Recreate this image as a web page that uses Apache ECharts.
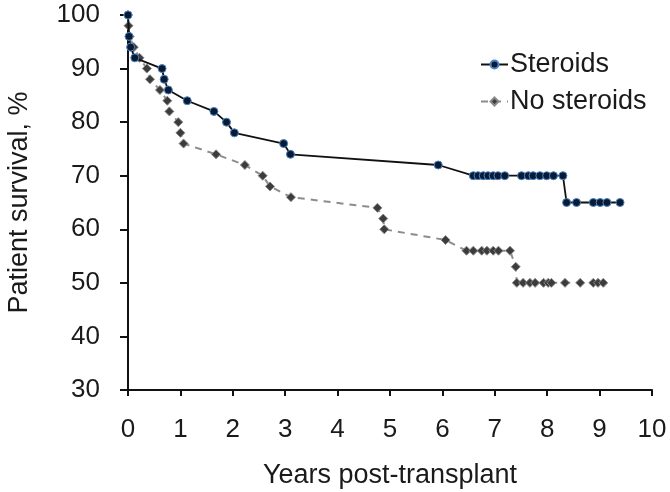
<!DOCTYPE html>
<html>
<head>
<meta charset="utf-8">
<script src="https://cdn.jsdelivr.net/npm/echarts@6/dist/echarts.min.js"></script>
<style>
html,body{margin:0;padding:0;background:#fff;}
#chart{width:670px;height:492px;}
</style>
</head>
<body>
<div id="chart"></div>
<script>
var seriesNames = ["Steroids", "No steroids"];
var xTicks = [0,1,2,3,4,5,6,7,8,9,10];
var yTicks = [30,40,50,60,70,80,90,100];

var steroidsX = [0, 0.02, 0.05, 0.13, 0.65, 0.69, 0.77, 1.13, 1.64, 1.88, 2.03, 2.97, 3.10, 5.92,
  6.59, 6.68, 6.78, 6.87, 6.97, 7.06, 7.19, 7.51, 7.64, 7.73, 7.86, 7.99, 8.12, 8.30,
  8.37, 8.56, 8.88, 9.01, 9.14, 9.39];
var steroidsY = [100, 96, 94, 92, 90, 88, 86, 84, 82, 80, 78, 76, 74, 72,
  70, 70, 70, 70, 70, 70, 70, 70, 70, 70, 70, 70, 70, 70,
  65, 65, 65, 65, 65, 65];

var noSteroidsX = [0, 0.01, 0.03, 0.11, 0.22, 0.36, 0.42, 0.61, 0.75, 0.79, 0.96, 1.00, 1.06, 1.68,
  2.23, 2.57, 2.71, 3.11, 4.76, 4.87, 4.89, 6.06,
  6.46, 6.59, 6.75, 6.85, 6.97, 7.07, 7.29, 7.40,
  7.42, 7.54, 7.67, 7.77, 7.93, 8.02, 8.08, 8.34, 8.63, 8.88, 8.97, 9.07];
var noSteroidsY = [100, 98, 96, 94, 92, 90, 88, 86, 84, 82, 80, 78, 76, 74,
  72, 70, 68, 66, 64, 62, 60, 58,
  56, 56, 56, 56, 56, 56, 56, 53,
  50, 50, 50, 50, 50, 50, 50, 50, 50, 50, 50, 50];

function pairs(xs, ys){ return xs.map(function(x,i){ return [x, ys[i]]; }); }

var font = "Liberation Sans, Arial, sans-serif";
var chart = echarts.init(document.getElementById('chart'), null, {renderer:'canvas'});
chart.setOption({
  animation: false,
  backgroundColor: '#ffffff',
  grid: {left: 128, right: 18, top: 15, bottom: 102, containLabel: false, outerBoundsMode: 'none'},
  legend: {
    orient: 'vertical',
    left: 480, top: 51, padding: 0,
    itemWidth: 27, itemHeight: 10, itemGap: 10,
    textStyle: {fontFamily: font, fontSize: 27, color: '#1a1a1a', padding:[0,0,0,-3]},
    data: seriesNames
  },
  xAxis: {
    type: 'value', min: xTicks[0], max: xTicks[xTicks.length-1], interval: 1,
    name: 'Years post-transplant', nameLocation: 'middle', nameGap: 72,
    nameTextStyle: {fontFamily: font, fontSize: 27, color: '#1a1a1a'},
    axisLine: {show: true, onZero: false, lineStyle: {color: '#111', width: 2}},
    axisTick: {show: true, inside: false, length: 6, lineStyle: {color: '#111', width: 2}},
    axisLabel: {margin: 27, fontFamily: font, fontSize: 26, color: '#1a1a1a'},
    splitLine: {show: false}
  },
  yAxis: {
    type: 'value', min: yTicks[0], max: yTicks[yTicks.length-1], interval: 10,
    name: 'Patient survival, %', nameLocation: 'middle', nameGap: 95,
    nameTextStyle: {fontFamily: font, fontSize: 27, color: '#1a1a1a'},
    axisLine: {show: true, onZero: false, lineStyle: {color: '#111', width: 2}},
    axisTick: {show: true, inside: false, length: 8, lineStyle: {color: '#111', width: 2}},
    axisLabel: {margin: 28, fontFamily: font, fontSize: 26, color: '#1a1a1a'},
    splitLine: {show: false}
  },
  series: [
    {
      name: seriesNames[0], type: 'line',
      data: pairs(steroidsX, steroidsY),
      symbol: 'circle', symbolSize: 8,
      lineStyle: {color: '#111111', width: 1.8},
      itemStyle: {color: '#0b1a33', borderColor: '#4a86c8', borderWidth: 1},
      z: 3
    },
    {
      name: seriesNames[1], type: 'line',
      data: pairs(noSteroidsX, noSteroidsY),
      symbol: 'diamond', symbolSize: 9,
      lineStyle: {color: '#8c8c8c', width: 2, type: [7, 6]},
      itemStyle: {color: '#3c3c3c', borderColor: '#8a8a8a', borderWidth: 1},
      z: 2
    }
  ]
});
</script>
</body>
</html>
